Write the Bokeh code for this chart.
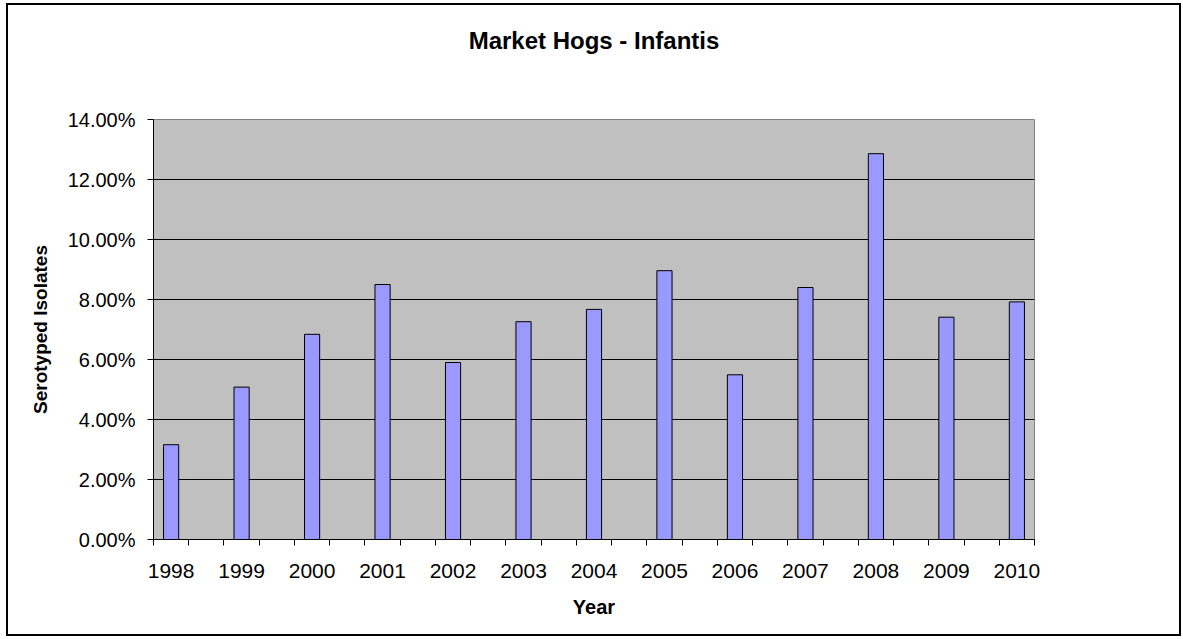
from bokeh.plotting import figure
from bokeh.models import FixedTicker, NumeralTickFormatter, Range1d, ColumnDataSource, Title
from bokeh.embed import file_html
from bokeh.resources import INLINE

years = ["1998", "1999", "2000", "2001", "2002", "2003", "2004",
         "2005", "2006", "2007", "2008", "2009", "2010"]
values = [0.0316, 0.0508, 0.0684, 0.0850, 0.0590, 0.0726, 0.0767,
          0.0896, 0.0549, 0.0840, 0.1286, 0.0741, 0.0792]
y_ticks = [0.0, 0.02, 0.04, 0.06, 0.08, 0.10, 0.12, 0.14]

FONT = "Liberation Sans"

# each year occupies one category slot followed by an empty slot (2 units wide each)
xs = [4 * i + 1 for i in range(len(years))]
n_slots = 2 * len(years) - 1

src = ColumnDataSource(dict(x=xs, top=values, year=years))

p = figure(frame_width=881, frame_height=420,
           min_border_left=145, min_border_right=145,
           min_border_top=114, min_border_bottom=95,
           output_backend="svg", toolbar_location=None,
           x_range=Range1d(0, 2 * n_slots), y_range=Range1d(0, 0.14),
           background_fill_color="#C0C0C0", border_fill_color="white",
           margin=(3, 0, 0, 6),
           styles={"border": "2px solid black"})

p.title.text = "Market Hogs - Infantis"
p.title.align = "center"
p.title.text_font = FONT
p.title.text_font_size = "24px"
p.title.text_font_style = "bold"
p.title.text_color = "black"
p.title.standoff = 10

# blank spacer between the title and the plot area
p.add_layout(Title(text=" ", text_font=FONT, text_font_size="24px", standoff=32), "above")

p.outline_line_color = "#808080"
p.outline_line_width = 1

p.vbar(x="x", top="top", bottom=0, width=0.86, source=src,
       fill_color="#9999FF", line_color="black", line_width=1)

# x axis
xa = p.xaxis[0]
xa.ticker = FixedTicker(ticks=xs, minor_ticks=list(range(0, 2 * n_slots + 1, 2)))
xa.major_label_overrides = {x: y for x, y in zip(xs, years)}
xa.major_tick_out = 0
xa.major_tick_in = 0
xa.minor_tick_out = 6
xa.minor_tick_in = 0
xa.minor_tick_line_color = "black"
xa.axis_line_color = "black"
xa.major_label_text_font = FONT
xa.major_label_text_font_size = "21px"
xa.major_label_text_color = "black"
xa.major_label_standoff = 18
xa.axis_label = "Year"
xa.axis_label_text_font = FONT
xa.axis_label_text_font_size = "20px"
xa.axis_label_text_font_style = "bold"
xa.axis_label_text_color = "black"
xa.axis_label_standoff = 15

# y axis
ya = p.yaxis[0]
ya.ticker = FixedTicker(ticks=y_ticks)
ya.formatter = NumeralTickFormatter(format="0.00%")
ya.major_tick_out = 6
ya.major_tick_in = 0
ya.minor_tick_line_color = None
ya.major_tick_line_color = "black"
ya.axis_line_color = "black"
ya.major_label_text_font = FONT
ya.major_label_text_font_size = "20px"
ya.major_label_text_color = "black"
ya.major_label_standoff = 12
ya.axis_label = "Serotyped Isolates"
ya.axis_label_text_font = FONT
ya.axis_label_text_font_size = "19px"
ya.axis_label_text_font_style = "bold"
ya.axis_label_text_color = "black"
ya.axis_label_standoff = 14

p.xgrid.grid_line_color = None
p.ygrid.ticker = FixedTicker(ticks=y_ticks[1:-1])
p.ygrid.grid_line_color = "black"
p.ygrid.grid_line_width = 1

open("out.html", "w").write(file_html(p, INLINE))
